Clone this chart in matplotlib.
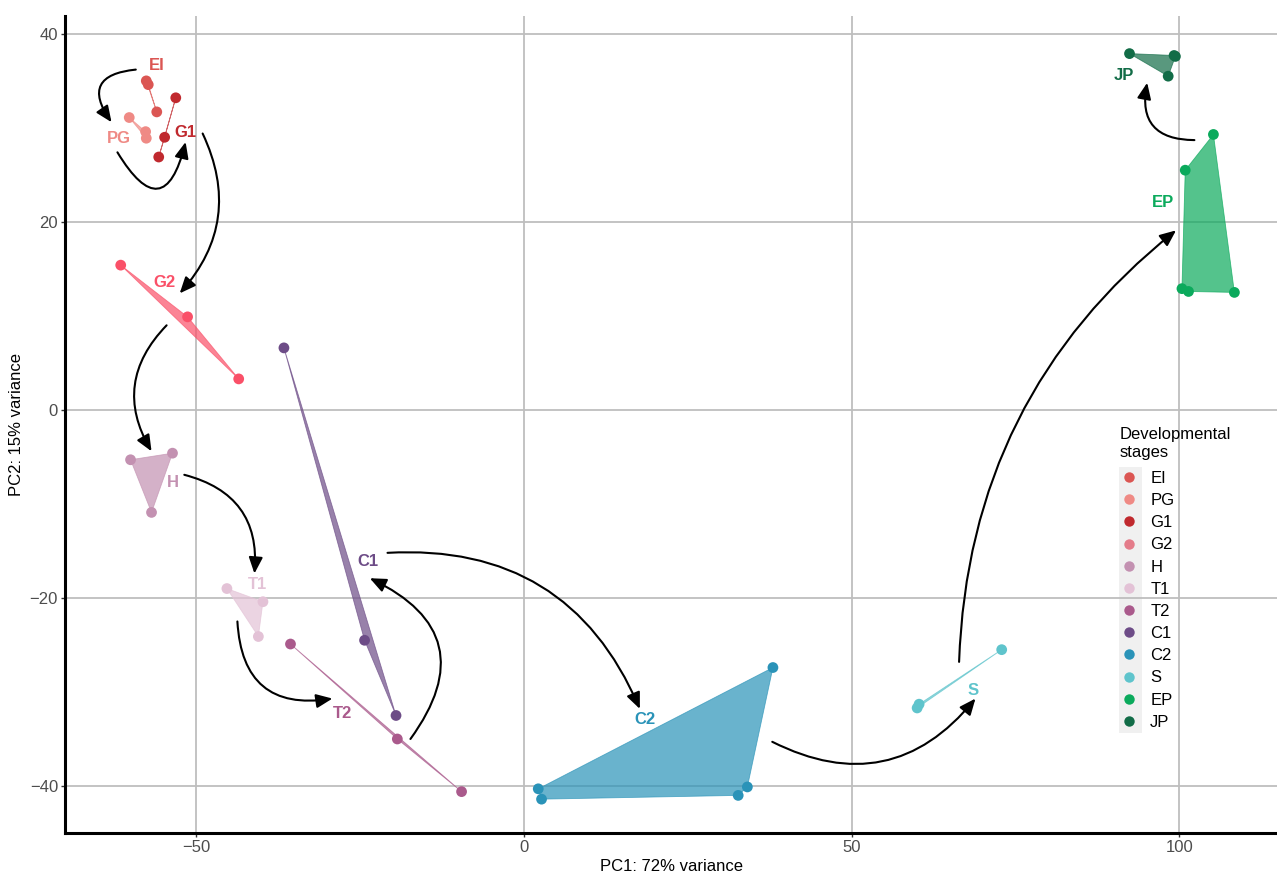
import matplotlib
matplotlib.use("Agg")
import matplotlib.pyplot as plt
from matplotlib.patches import FancyArrowPatch, Rectangle
from matplotlib.lines import Line2D

plt.rcParams['font.family'] = ['Liberation Sans', 'DejaVu Sans']

# developmental stages, in order
stages = ['EI', 'PG', 'G1', 'G2', 'H', 'T1', 'T2', 'C1', 'C2', 'S', 'EP', 'JP']
stage_colors = ['#DB5653', '#EF8A85', '#C0292E', '#FA5068', '#C391B1', '#E3C2D6',
                '#AA5A8C', '#6D4C87', '#2A93B8', '#5FC4CC', '#0BAA5C', '#126C47']
key_colors = ['#DB5653', '#EF8A85', '#C0292E', '#E47C8A', '#C391B1', '#E3C2D6',
              '#AA5A8C', '#6D4C87', '#2A93B8', '#5FC4CC', '#0BAA5C', '#126C47']

# PCA scores, one row per sample
sample_stage = ['EI', 'EI', 'EI',
                'PG', 'PG', 'PG',
                'G1', 'G1', 'G1',
                'G2', 'G2', 'G2',
                'H', 'H', 'H',
                'T1', 'T1', 'T1',
                'T2', 'T2', 'T2',
                'C1', 'C1', 'C1',
                'C2', 'C2', 'C2', 'C2', 'C2',
                'S', 'S', 'S',
                'EP', 'EP', 'EP', 'EP', 'EP',
                'JP', 'JP', 'JP', 'JP']
sample_pc1 = [-57.6, -57.3, -56.0,
              -60.2, -57.7, -57.6,
              -53.1, -54.8, -55.7,
              -61.5, -51.3, -43.5,
              -60.0, -53.6, -56.8,
              -45.3, -39.8, -40.5,
              -35.6, -19.3, -9.5,
              -36.6, -24.3, -19.5,
              38.0, 2.2, 2.7, 34.1, 32.7,
              72.9, 60.0, 60.3,
              105.2, 100.9, 100.4, 101.4, 108.4,
              92.4, 99.4, 99.2, 98.3]
sample_pc2 = [35.0, 34.6, 31.7,
              31.1, 29.6, 28.9,
              33.2, 29.0, 26.9,
              15.4, 9.9, 3.3,
              -5.3, -4.6, -10.9,
              -19.0, -20.4, -24.1,
              -24.9, -35.0, -40.6,
              6.6, -24.5, -32.5,
              -27.4, -40.3, -41.4, -40.1, -41.0,
              -25.5, -31.7, -31.3,
              29.3, 25.5, 12.9, 12.6, 12.5,
              37.9, 37.6, 37.7, 35.5]

# stage name placement
label_pc1 = [-56.0, -61.8, -51.7, -54.9, -53.6, -40.7, -27.6, -23.8, 18.5, 68.5, 97.5, 91.6]
label_pc2 = [36.6, 28.9, 29.5, 13.6, -7.7, -18.6, -32.3, -16.1, -32.9, -29.8, 22.1, 35.6]

# trajectory arrows between consecutive stages
arrow_x0 = [-59.2, -62.0, -49.0, -54.5, -51.8, -43.7, -17.3, -20.8, 37.9, 66.4, 102.3]
arrow_y0 = [36.2, 27.4, 29.4, 9.0, -6.9, -22.5, -35.0, -15.2, -35.3, -26.8, 28.7]
arrow_x1 = [-62.9, -51.6, -52.5, -56.8, -41.1, -29.2, -23.5, 17.7, 68.9, 99.5, 95.1]
arrow_y1 = [30.6, 28.5, 12.4, -4.4, -17.4, -30.7, -17.9, -31.8, -30.7, 19.1, 34.8]
arrow_bend = [0.85, 1.2, -0.33, 0.38, -0.42, 0.55, 0.6, -0.35, 0.4, -0.23, -0.6]


def convex_hull(points):
    pts = sorted(set(points))
    if len(pts) < 3:
        return pts

    def cross(o, a, b):
        return (a[0] - o[0]) * (b[1] - o[1]) - (a[1] - o[1]) * (b[0] - o[0])

    lower = []
    for p in pts:
        while len(lower) >= 2 and cross(lower[-2], lower[-1], p) <= 0:
            lower.pop()
        lower.append(p)
    upper = []
    for p in reversed(pts):
        while len(upper) >= 2 and cross(upper[-2], upper[-1], p) <= 0:
            upper.pop()
        upper.append(p)
    return lower[:-1] + upper[:-1]


fig = plt.figure(figsize=(12.77, 8.74), dpi=100)
ax = fig.add_axes([65 / 1277, 41 / 874, 1 - 65 / 1277, 817 / 874])

for stage, col in zip(stages, stage_colors):
    pts = [(x, y) for s, x, y in zip(sample_stage, sample_pc1, sample_pc2) if s == stage]
    hull = convex_hull(pts)
    ax.fill([p[0] for p in hull], [p[1] for p in hull], facecolor=col,
            edgecolor=col, alpha=0.7, lw=0.6, zorder=2)
    ax.scatter([p[0] for p in pts], [p[1] for p in pts], s=60, color=col,
               edgecolors='none', zorder=3)

for stage, col, lx, ly in zip(stages, stage_colors, label_pc1, label_pc2):
    ax.text(lx, ly, stage, color=col, fontsize=12, fontweight='bold',
            ha='center', va='center', zorder=4)

for x0, y0, x1, y1, rad in zip(arrow_x0, arrow_y0, arrow_x1, arrow_y1, arrow_bend):
    arr = FancyArrowPatch((x0, y0), (x1, y1),
                          connectionstyle=f"arc3,rad={rad}",
                          arrowstyle="-|>,head_length=0.65,head_width=0.28",
                          mutation_scale=15, lw=1.5, color='black',
                          shrinkA=0, shrinkB=0, zorder=5)
    ax.add_patch(arr)

ax.set_xlim(-70.0, 114.9)
ax.set_ylim(-45.0, 41.9)
ax.set_xticks([-50, 0, 50, 100])
ax.set_yticks([-40, -20, 0, 20, 40])
ax.set_xticklabels(['\u221250', '0', '50', '100'])
ax.set_yticklabels(['\u221240', '\u221220', '0', '20', '40'])
ax.grid(True, color='#BEBEBE', lw=1.3)
ax.set_axisbelow(True)
for side in ['top', 'right']:
    ax.spines[side].set_visible(False)
for side in ['left', 'bottom']:
    ax.spines[side].set_linewidth(2.2)
    ax.spines[side].set_color('black')
ax.tick_params(colors='#333333', labelcolor='#4D4D4D', labelsize=12,
               length=3, width=1, pad=2)
ax.set_xlabel('PC1: 72% variance', fontsize=12, labelpad=3)
ax.set_ylabel('PC2: 15% variance', fontsize=12, labelpad=4)

handles = [Line2D([], [], marker='o', ls='none', markersize=7.5,
                  markerfacecolor=c, markeredgecolor='none') for c in key_colors]
leg = ax.legend(handles, stages, title='Developmental\nstages', loc='upper left',
                bbox_to_anchor=(1106 / 1277, 1 - 414 / 874),
                bbox_transform=fig.transFigure, frameon=False, fontsize=12,
                title_fontsize=12, labelspacing=0.43, handlelength=1.2,
                handletextpad=0.65, borderpad=0.3, alignment='left')
# a bit more room between the title and the keys
leg._legend_box.sep = 8
ax.add_patch(Rectangle((1119 / 1277, 1 - 733 / 874), 23 / 1277, 266 / 874,
                       transform=fig.transFigure, facecolor='#F0F0F0',
                       edgecolor='none', zorder=0.4))

fig.savefig('out.png', dpi=100)
